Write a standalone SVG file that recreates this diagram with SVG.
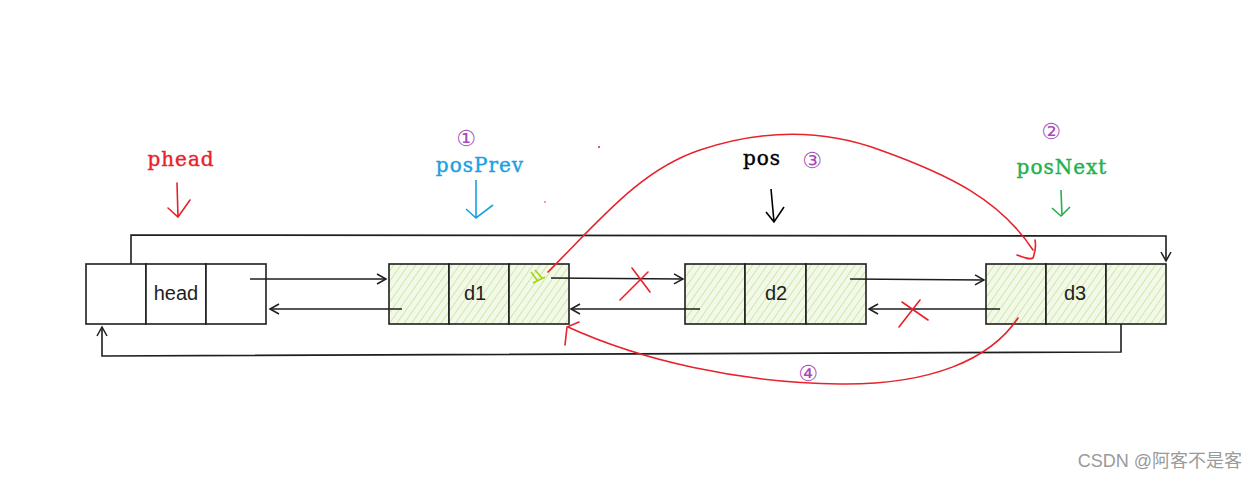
<svg xmlns="http://www.w3.org/2000/svg" width="1260" height="479" viewBox="0 0 1260 479">
<defs>
<pattern id="hatch" patternUnits="userSpaceOnUse" width="6" height="6" patternTransform="rotate(35)">
<rect width="6" height="6" fill="#f3f9e8"/>
<line x1="0" y1="0" x2="0" y2="6" stroke="#c8e39a" stroke-width="1.6"/>
</pattern>
<marker id="ah" markerWidth="12" markerHeight="12" refX="10" refY="6" orient="auto" markerUnits="userSpaceOnUse">
<path d="M1,1 L10,6 L1,11" fill="none" stroke="#1e1e1e" stroke-width="1.5"/>
</marker>
</defs>
<style>
.box{stroke:#1e1e1e;stroke-width:1.6;}
.plain{fill:#ffffff;}
.green{fill:url(#hatch);}
.lbl{font-family:"Liberation Sans",Arial,sans-serif;font-size:20px;fill:#1e1e1e;text-anchor:middle;}
.ptr{font-family:"DejaVu Serif","Liberation Serif",serif;font-size:20px;letter-spacing:1px;text-anchor:middle;stroke-width:0.4;}
.num{font-family:"DejaVu Sans","Noto Sans",sans-serif;font-size:22px;fill:#a74bb8;text-anchor:middle;}
.conn{fill:none;stroke:#1e1e1e;stroke-width:1.6;}
.red{fill:none;stroke:#e8222a;stroke-width:1.6;stroke-linecap:round;}
</style>
<rect width="1260" height="479" fill="#ffffff"/>

<g id="node-head">
<rect class="box plain" x="86" y="264" width="60" height="60"/>
<rect class="box plain" x="146" y="264" width="60" height="60"/>
<rect class="box plain" x="206" y="264" width="60" height="60"/>
<text class="lbl" x="176" y="300">head</text>
</g>
<g id="node-d1">
<rect class="box green" x="389" y="264" width="60" height="60"/>
<rect class="box green" x="449" y="264" width="60" height="60"/>
<rect class="box green" x="509" y="264" width="60" height="60"/>
<text class="lbl" x="475" y="300">d1</text>
</g>
<g id="node-d2">
<rect class="box green" x="685" y="264" width="60" height="60"/>
<rect class="box green" x="745" y="264" width="61" height="60"/>
<rect class="box green" x="806" y="264" width="60" height="60"/>
<text class="lbl" x="776" y="300">d2</text>
</g>
<g id="node-d3">
<rect class="box green" x="986" y="264" width="60" height="60"/>
<rect class="box green" x="1046" y="264" width="60" height="60"/>
<rect class="box green" x="1106" y="264" width="60" height="60"/>
<text class="lbl" x="1075" y="300">d3</text>
</g>

<g id="connectors">
<path class="conn" d="M250,279 L386,279" marker-end="url(#ah)"/>
<path class="conn" d="M402,309 L270,309" marker-end="url(#ah)"/>
<path class="conn" d="M551,278 L683,279" marker-end="url(#ah)"/>
<path class="conn" d="M700,309 L571,309" marker-end="url(#ah)"/>
<path class="conn" d="M850,279 L984,280" marker-end="url(#ah)"/>
<path class="conn" d="M1000,309 L869,309" marker-end="url(#ah)"/>
<path class="conn" d="M131,264 L131,235 L1166,236 L1166,261" marker-end="url(#ah)"/>
<path class="conn" d="M1121,324 L1121,352 L102,356 L102,327" marker-end="url(#ah)"/>
</g>

<g id="label-phead">
<text class="ptr" x="181" y="166" fill="#e8222a" stroke="#e8222a">phead</text>
<path class="red" d="M177,183 L178,217 M168,208 L178,217 L190,200"/>
</g>
<g id="label-posPrev">
<text class="num" x="466" y="146">①</text>
<text class="ptr" x="480" y="172" fill="#1ba1e2" stroke="#1ba1e2">posPrev</text>
<path fill="none" stroke="#1ba1e2" stroke-width="1.6" d="M476,180 L476,218 M466,209 L476,218 L493,205"/>
</g>
<g id="label-pos">
<text class="ptr" x="762" y="165" fill="#000000" stroke="#000000">pos</text>
<text class="num" x="812" y="168">③</text>
<path fill="none" stroke="#000000" stroke-width="1.6" d="M771,189 L774,222 M766,212 L774,222 L784,207"/>
</g>
<g id="label-posNext">
<text class="num" x="1051" y="139">②</text>
<text class="ptr" x="1062" y="174" fill="#22b14c" stroke="#22b14c">posNext</text>
<path fill="none" stroke="#22b14c" stroke-width="1.6" d="M1061,190 L1062,216 M1052,208 L1061,216 L1070,207"/>
</g>

<g id="red-marks">
<path class="red" d="M548,272 C600,220 640,170 700,150 C760,130 820,128 880,150 C950,175 1000,200 1033,250"/>
<path class="red" d="M1017,255 C1025,258 1030,260 1033,258 C1036,250 1036,245 1035,240"/>
<path class="red" d="M1018,318 C990,360 930,385 840,384 C740,383 640,360 568,327"/>
<path class="red" d="M565,345 L567,327 L579,322"/>
<path class="red" d="M620,300 L648,272 M632,268 L650,292"/>
<path class="red" d="M899,327 L920,300 M902,302 L928,320"/>
<circle cx="599" cy="147" r="1" fill="#e8222a"/>
<circle cx="545" cy="202" r="0.8" fill="#e8222a"/>
<path fill="none" stroke="#a6d40f" stroke-width="1.6" d="M531,272 L537,280 M535,270 L542,278 M533,283 L545,277"/>
<text class="num" x="808" y="381">④</text>
</g>

<text x="1242" y="467" font-family="'Liberation Sans','Noto Sans CJK SC',sans-serif" font-size="18" fill="#9a9a9a" text-anchor="end">CSDN @阿客不是客</text>
</svg>
